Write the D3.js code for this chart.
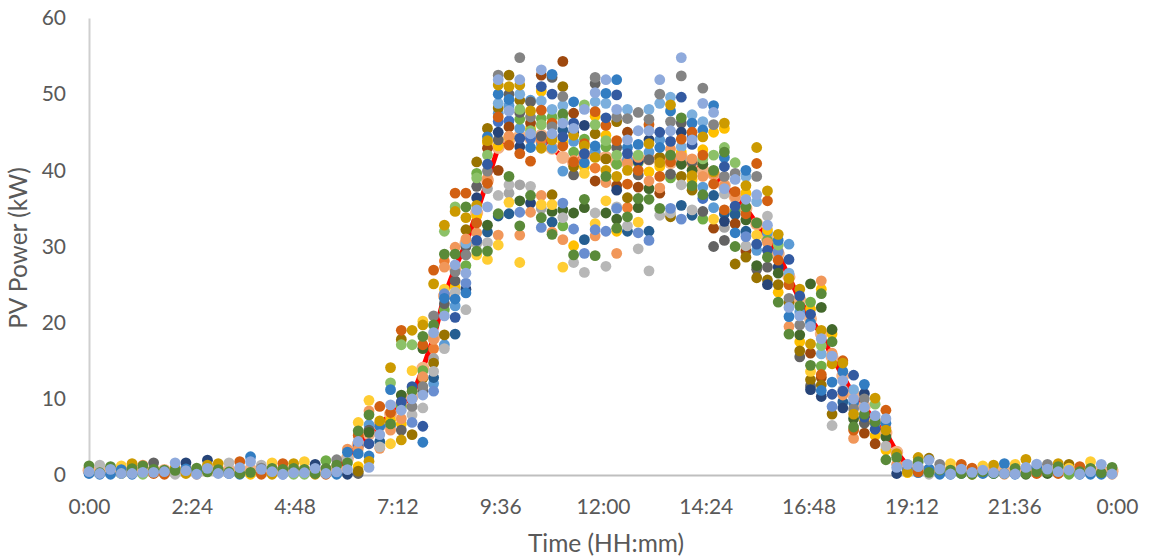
<!DOCTYPE html>
<html>
<head>
<meta charset="utf-8">
<script src="https://cdn.jsdelivr.net/npm/d3@7"></script>
<style>
  html, body { margin: 0; padding: 0; background: white; }
  text { font-family: Lato, "Open Sans", sans-serif; fill: #595959; }
</style>
</head>
<body>
<div id="Canvas1"></div>
<script>
// x axis labels, every 144 minutes
let xTickMinutes = [0, 144, 288, 432, 576, 720, 864, 1008, 1152, 1296, 1440]
let xTickLabels = ["0:00", "2:24", "4:48", "7:12", "9:36", "12:00", "14:24", "16:48", "19:12", "21:36", "0:00"]
let yTicks = [0, 10, 20, 30, 40, 50, 60]
// the loggers do not sit exactly on 15 min in the picture
let minutesPerSlot = 15.085

// mean of all days, one value per slot
let meanPower = [.6,.6,.6,.6,.6,.6,.6,.6,.6,.6,.6,.6,.6,.6,.6,.7,.6,.6,.6,.6,.6,.6,.6,.8,
  2.2,4,5.4,6.5,8,9.2,10.3,14,18,23.5,27.2,30.4,34.4,38.7,43,44,44.5,44.2,44.6,42.9,41.7,41,42,42,
  41.7,41,41,41.5,41.5,41.5,41,41.8,41,40,39.5,38,36.5,35,33,31,29,26,23,20.5,18.5,15.5,13,10.5,
  9,7,5.5,3,1.2,.7,.6,.6,.6,.6,.5,.6,.6,.6,.6,.7,.7,.6,.6,.6,.6,.6,.6,.5]

let s00 = [[18,.2],[23,1.2],[24,.43]]
let s01 = [[14,1.3],[18,.1],[23,.3],[24,.2]]
let s02 = [[18,.1],[23,1.1],[24,.74]]
let s03 = [[15,1.2],[18,.7],[23,.2],[24,.2]]
let s04 = [[21,1.5],[18,.1],[23,.85],[24,.2]]
let s05 = [[13,1.3],[17,.1],[23,1.2],[24,.35]]
let s06 = [[8,1.6],[19,.2],[23,.75],[24,.35]]
let s07 = [[19,.1],[18,.3],[23,.65],[24,.43]]
let s08 = [[21,.9],[14,.1],[23,.6],[24,1.6]]
let s09 = [[10,1.6],[21,.2],[18,.8],[24,.57]]
let s10 = [[13,.1],[18,.6],[23,.9],[24,.1]]
let s11 = [[10,1.95],[21,1.3],[23,.4],[24,.87]]
let s12 = [[21,1.5],[18,.3],[23,.7],[24,.2]]
let s13 = [[14,1.6],[18,.2],[23,.4],[24,.2]]
let s14 = [[19,1.75],[18,.1],[23,.2],[24,.96]]
let s15 = [[18,2.4],[3,.1],[23,.35],[24,1.75]]
let s16 = [[14,1.3],[19,.1],[20,.9],[24,.74]]
let s17 = [[15,1.6],[21,.1],[23,.87],[24,.43]]
let s18 = [[19,1.5],[16,.1],[23,.74],[24,.1]]
let s19 = [[21,1.5],[17,.1],[23,.87],[24,.3]]
let s20 = [[15,1.75],[17,.1],[23,.74],[24,.3]]
let s21 = [[10,1.4],[21,.1],[23,.2],[24,.87]]
let s22 = [[5,1.9],[19,.1],[23,.87],[24,.2]]
let s23 = [[20,2],[18,.1],[23,1.3],[24,.4]]
let s24 = [[14,2.2],[23,1.6],[24,.7],[10,.1],[13,3.4],[18,3]]
let s25 = [[15,6.9],[23,5.8],[19,5.2],[24,4.4],[13,3.4],[18,2.8],[3,1.1],[9,.5],[8,.2],[4,3.8]]
let s26 = [[15,9.8],[13,8.4],[23,7.9],[8,5.9],[11,5.6],[22,4.1],[18,2.5],[21,1.8],[24,1],[0,6.6]]
let s27 = [[19,9],[21,7.1],[18,6.4],[24,5.3],[14,3.7],[13,3.5],[6,4.4]]
let s28 = [[21,14.1],[17,12.1],[18,11.2],[24,9.2],[19,8.2],[3,7.2],[23,6.7],[13,5.9],[15,4.1],[0,6.4]]
let s29 = [[19,19],[9,17.8],[17,17.1],[11,10.5],[22,9.6],[5,9],[24,8.5],[13,7.4],[3,6.7],[8,5.9],[21,4.6]]
let s30 = [[21,19],[17,17.1],[15,13.7],[22,11.6],[23,11],[24,10],[20,9],[14,7.9],[16,6.9],[9,5.3]]
let s31 = [[21,19.7],[15,20.2],[23,18.2],[19,17.1],[11,16.6],[5,13.7],[9,12.7],[13,12.9],[20,11.6],[24,10.5],[14,8.8],[22,6.4],[18,4.3],[8,11]]
let s32 = [[19,26.9],[21,25.1],[20,20.9],[23,19.7],[24,18.7],[13,17.8],[1,16.6],[2,15.3],[9,14.7],[14,13.6],[6,12.8],[16,11],[0,12]]
let s33 = [[21,32.8],[17,32],[23,29],[1,28.1],[13,27.3],[15,24.4],[18,23.2],[8,22.5],[5,21.7],[24,20.9],[9,18.4],[0,17.1],[14,16.6],[16,23.8]]
let s34 = [[19,37],[17,35.2],[21,34.6],[13,29.9],[23,29],[24,27.6],[20,26.7],[3,24.7],[14,24],[18,23.1],[22,20.7],[6,18.5],[0,22.2],[8,25.5]]
let s35 = [[19,37],[23,35.2],[21,33.8],[9,32.2],[12,30.4],[20,28.9],[5,27.5],[24,26.5],[16,25.2],[18,23.9],[10,24.4],[14,21.7],[13,31],[8,30]]
let s36 = [[9,41.1],[5,39.6],[17,39],[8,37.9],[10,36.4],[21,35.4],[24,34.8],[19,33.1],[13,31.8],[22,30.8],[2,30.4],[23,29.4],[15,28.9],[3,34]]
let s37 = [[9,45.5],[18,44.4],[21,43.9],[7,42.9],[17,42],[22,40.8],[20,39.9],[19,38.3],[2,37.6],[24,35.2],[11,32.8],[6,31.9],[14,30.5],[23,29.4],[15,28.3],[13,39],[3,43.6]]
let s38 = [[20,52.5],[24,51.9],[21,51.2],[18,50],[12,48.8],[9,48.2],[19,47],[4,46.4],[10,45],[8,44],[3,43.2],[7,40],[14,36.7],[23,34.3],[6,34],[13,31.5],[15,30.2],[0,47.5]]
let s39 = [[9,52.5],[21,51],[8,50],[18,49.3],[24,47.8],[7,45.7],[3,44.4],[19,43.3],[23,39.2],[14,38.1],[2,37],[15,35.8],[6,34.3],[13,44.5],[4,46.5],[0,48.5]]
let s40 = [[20,54.8],[24,51.9],[21,51.2],[12,50],[9,49.2],[17,48],[5,46.7],[0,45.5],[22,44.2],[10,43.1],[19,42.2],[2,38.1],[11,36],[16,34.5],[23,32.7],[13,31.5],[15,27.9],[8,47.6]]
let s41 = [[0,49.2],[8,49],[21,47.8],[20,47],[7,46.2],[24,44.8],[4,44.2],[18,43],[19,41.2],[14,37.9],[23,36.7],[10,35.7],[13,34.5],[3,45.5],[17,45.2]]
let s42 = [[24,53.2],[7,52.5],[22,51],[3,50.4],[12,49.1],[19,47.9],[5,46.8],[17,46],[1,44],[21,42.9],[13,36.7],[15,35.5],[2,35],[23,33.8],[16,32.5],[8,44.5],[0,43.5]]
let s43 = [[18,52.6],[8,52.2],[22,50],[12,48],[19,46.2],[20,45.7],[24,44.8],[21,44],[0,42.9],[9,36.8],[15,35.5],[11,34.6],[6,33.2],[23,31.6],[13,31.9],[1,44.5],[5,47]]
let s44 = [[7,54.3],[9,51],[20,49.7],[12,48.5],[23,47.4],[17,46.8],[24,46.2],[22,44.4],[19,43.2],[0,39.9],[16,35.7],[11,34.8],[14,33.8],[5,32.7],[13,30.9],[15,27.3],[6,45.3],[3,43.7]]
let s45 = [[18,49],[7,47.5],[22,46.2],[24,45.5],[21,44.6],[0,43.8],[5,42.4],[19,41.1],[9,40.5],[8,39.4],[11,34.4],[16,32.3],[3,30.1],[23,28.9],[14,27.9],[10,45],[13,41.3]]
let s46 = [[17,48.6],[24,48],[10,45.9],[5,44.1],[21,43.2],[22,42.2],[18,41],[15,39.6],[23,36.2],[11,35.1],[6,30.9],[16,29.1],[14,26.6],[13,42],[19,43.5],[3,40.4]]
let s47 = [[20,52.2],[8,51.4],[24,50.2],[12,49],[19,47.7],[3,47.1],[17,46],[9,44.8],[18,43.2],[21,41.7],[1,40.3],[7,38.6],[14,34.4],[15,33],[16,32.2],[13,31.4],[23,28.8],[0,42.5]]
let s48 = [[24,51.9],[18,50.1],[12,48.8],[22,46.9],[19,45.9],[3,44.6],[17,43.9],[5,43.1],[21,40],[23,39.2],[13,38.4],[15,36],[11,34.4],[16,32],[14,27.4],[9,41.5]]
let s49 = [[18,51.9],[22,49.9],[24,48],[20,47],[9,46.4],[19,43.9],[8,43],[17,42],[5,40.8],[21,39.2],[7,38],[10,37.4],[16,35],[14,35.2],[11,33.6],[23,32.4],[3,32],[13,29.1]]
let s50 = [[12,48],[20,46.8],[7,45],[24,44],[22,42.2],[13,41],[21,40],[19,38.2],[9,36.4],[1,35.1],[23,33.9],[14,32.7],[6,32],[18,43],[0,41.4]]
let s51 = [[20,47.6],[24,45.2],[18,43.4],[17,42],[10,41.2],[19,40],[8,39.4],[7,37.8],[23,36.3],[11,35.1],[15,33.2],[16,31.8],[14,29.7],[13,41.7],[5,41]]
let s52 = [[12,48],[20,46.7],[19,46],[24,45.2],[21,43.5],[0,42.4],[8,41.4],[3,39.8],[13,38.6],[11,37.6],[23,36.2],[6,32],[16,30.8],[14,26.8],[10,44]]
let s53 = [[24,51.9],[20,50],[12,48.8],[22,45],[18,43],[9,41.7],[21,41],[19,39.2],[13,37.7],[7,37],[23,35],[14,34.1],[3,40.5],[0,44]]
let s54 = [[12,49.6],[21,48.6],[18,47.8],[20,46.4],[24,45.2],[22,43.8],[13,42.8],[23,42],[19,41.1],[8,39.5],[5,39],[16,35],[14,34.4],[9,33.9],[1,41.8]]
let s55 = [[24,54.8],[20,52.4],[22,49.6],[23,46.9],[8,46.2],[10,45],[19,44.1],[12,43.1],[3,42.4],[2,41.6],[11,40.8],[9,39.2],[14,38.1],[6,35.4],[16,33.6],[13,41.9]]
let s56 = [[12,47.3],[18,46.2],[19,45],[24,44],[22,43.4],[8,41.1],[11,40],[21,39.3],[3,38.8],[23,38],[9,37.4],[14,34.8],[6,34.1],[13,41.5],[4,44.4]]
let s57 = [[20,50.8],[24,48.8],[12,46.4],[18,45.3],[21,44.4],[3,42.7],[19,42],[11,40.8],[13,39.2],[0,37.8],[23,36.8],[4,36.3],[8,34.6],[5,33.6],[17,41.5]]
let s58 = [[18,48.5],[24,47.6],[20,46],[3,45],[17,42],[23,40],[19,38.2],[6,36.7],[0,35.1],[15,33.6],[7,32.4],[8,30],[13,39.5],[21,39.8]]
let s59 = [[21,46.2],[3,45.5],[17,43],[23,42.4],[18,41.7],[22,40.5],[20,39.2],[24,37.6],[14,36.9],[19,34.8],[6,34.3],[10,33.3],[2,32.5],[8,30.8],[13,38]]
let s60 = [[17,41],[20,39.6],[24,38.8],[19,37.2],[22,35.3],[5,34.6],[6,34.2],[7,33],[18,31.8],[23,30],[9,27.7],[13,36.5]]
let s61 = [[18,40],[12,39.2],[21,38],[3,37],[23,35.2],[19,34.3],[6,32],[16,31.3],[14,30.1],[7,29.4],[9,28.6],[24,36.2],[11,33.5]]
let s62 = [[21,43],[19,40.9],[20,39.2],[24,36.8],[12,35.9],[23,33.1],[15,31.5],[22,30.3],[0,29.5],[9,25.9],[13,33],[11,27.5],[8,27]]
let s63 = [[21,37.3],[19,36],[14,34],[24,32.8],[5,30.8],[13,30.5],[22,29.5],[23,28.6],[8,27.3],[9,25.6],[10,25],[0,31.8],[3,32.2]]
let s64 = [[21,31.6],[18,30.8],[17,30.2],[16,29.3],[19,28.2],[10,27.3],[11,26.5],[9,25],[3,24],[23,22.7],[13,29.4]]
let s65 = [[0,30.3],[22,28.3],[12,26.5],[21,25.8],[19,25],[20,23.2],[24,22],[18,20.8],[13,19.5],[23,18.5],[9,22.6]]
let s66 = [[21,24.4],[22,23.5],[23,22.2],[24,20.9],[20,19.7],[11,18.4],[3,17.5],[9,16.3],[8,15.5],[0,21.4]]
let s67 = [[11,25.1],[5,22.7],[3,21.8],[22,21.1],[18,20],[24,19.5],[21,17.2],[7,16],[23,14.4],[15,13.6],[9,12.5],[8,11.7],[10,11.2]]
let s68 = [[13,25.5],[23,23.8],[3,24.4],[11,22],[21,19],[24,17.9],[17,17],[12,15.9],[19,13.2],[9,11.8],[18,11.1],[10,10.3],[7,12.8],[5,14.3]]
let s69 = [[11,19.1],[3,18.5],[23,17.5],[13,16],[24,15.6],[21,14.6],[18,12.2],[22,10.6],[16,9],[9,8],[14,6.5]]
let s70 = [[19,15],[21,14.7],[18,13.6],[24,12.4],[14,11.2],[6,9.6],[10,8.8],[13,10.5],[22,11]]
let s71 = [[22,13.1],[12,11.2],[24,10],[20,8.7],[21,8],[11,7.4],[23,6.3],[19,5.9],[13,4.8],[18,9.5]]
let s72 = [[18,11.9],[10,10.7],[20,10],[24,8.9],[23,8],[8,6.8],[7,5.5],[22,7.6],[3,7]]
let s73 = [[21,10.1],[17,9.3],[24,7.8],[23,7],[22,6],[3,5.2],[7,4.1],[18,6.8]]
let s74 = [[19,8.5],[24,7.4],[18,6.8],[21,5.9],[11,5],[3,3.3],[23,2],[13,6.2],[14,3.8]]
let s75 = [[21,2.8],[23,2.3],[13,1.4],[24,1],[10,.2]]
let s76 = [[3,.3],[24,1.4],[21,.4],[18,.7]]
let s77 = [[21,2.3],[23,1.75],[19,.4],[18,.3],[24,1.1]]
let s78 = [[9,2.2],[18,.8],[14,.1],[23,.35],[24,1.97]]
let s79 = [[20,1.4],[18,.1],[23,.65],[24,.78]]
let s80 = [[15,1.5],[18,.1],[23,.65],[24,.13]]
let s81 = [[19,1.4],[18,.2],[23,.2],[24,.78]]
let s82 = [[19,.9],[21,.1],[23,.1],[24,.35]]
let s83 = [[15,1.2],[18,.2],[23,.43],[24,.65]]
let s84 = [[21,1.3],[18,.2],[23,.2],[24,.3]]
let s85 = [[18,1.5],[13,.1],[23,.2],[24,.2]]
let s86 = [[15,1.4],[18,.1],[23,.87],[24,.13]]
let s87 = [[21,2.05],[11,.1],[23,.2],[24,1]]
let s88 = [[19,.2],[18,1],[23,.43],[24,1.44]]
let s89 = [[20,1.4],[11,.2],[23,.43],[24,.78]]
let s90 = [[21,1.5],[19,.2],[23,1.1],[24,.43]]
let s91 = [[9,1.4],[5,.1],[15,.9],[24,.65]]
let s92 = [[19,1.1],[18,.1],[23,.43],[24,.13]]
let s93 = [[15,1.75],[18,.1],[23,.87],[24,.43]]
let s94 = [[18,.1],[23,.3],[24,1.4]]
let s95 = [[13,.1],[23,1],[24,.13]]

let daySlots = [s00,s01,s02,s03,s04,s05,s06,s07,s08,s09,s10,s11,s12,s13,s14,s15,s16,s17,s18,s19,s20,s21,s22,s23,
  s24,s25,s26,s27,s28,s29,s30,s31,s32,s33,s34,s35,s36,s37,s38,s39,s40,s41,s42,s43,s44,s45,s46,s47,
  s48,s49,s50,s51,s52,s53,s54,s55,s56,s57,s58,s59,s60,s61,s62,s63,s64,s65,s66,s67,s68,s69,s70,s71,
  s72,s73,s74,s75,s76,s77,s78,s79,s80,s81,s82,s83,s84,s85,s86,s87,s88,s89,s90,s91,s92,s93,s94,s95]

let W = 1151
let H = 559
let svg = d3.select("#Canvas1")
    .append("svg")
    .attr("width", W)
    .attr("height", H)
    .style("display", "block")

// Office palette, later days are drawn on top
let dayColor = d3.scaleOrdinal()
    .domain(d3.range(25))
    .range(["#5B9BD5", "#ED7D31", "#A5A5A5", "#FFC000", "#4472C4", "#70AD47",
            "#255E91", "#9E480E", "#636363", "#997300", "#264478", "#43682B",
            "#7CAFDD", "#F1975A", "#B7B7B7", "#FFCD33", "#698ED0", "#8CC168",
            "#327DC2", "#D26012", "#848484", "#CC9A00", "#335AA1", "#5A8A39", "#8FAADC"])

let x = d3.scaleLinear().domain([0, 1440]).range([89, 1117])
let y = d3.scaleLinear().domain([0, 60]).range([475, 18])
let slotX = slot => x(slot * minutesPerSlot)

// 座標軸
svg.append("g")
    .attr("transform", `translate(0,${y(0)})`)
    .call(d3.axisBottom(x).tickValues(xTickMinutes).tickSize(0).tickPadding(24)
        .tickFormat((d, i) => xTickLabels[i]))
    .call(g => g.select(".domain").attr("stroke", "#BFBFBF").attr("stroke-width", 2))
    .call(g => g.selectAll("text").style("font-size", "21px"))
svg.append("g")
    .attr("transform", `translate(${x(0)},0)`)
    .call(d3.axisLeft(y).tickValues(yTicks).tickSize(0).tickPadding(23))
    .call(g => g.select(".domain").attr("stroke", "#CFCFCF").attr("stroke-width", 2))
    .call(g => g.selectAll("text").style("font-size", "21px"))

svg.append("text")
    .attr("x", 606).attr("y", 552)
    .attr("text-anchor", "middle")
    .style("font-size", "24.5px")
    .text("Time (HH:mm)")
svg.append("text")
    .attr("transform", "translate(27,248) rotate(-90)")
    .attr("text-anchor", "middle")
    .style("font-size", "24.5px")
    .text("PV Power (kW)")

// mean series: thick red line with big pale markers, under everything
let meanLine = d3.line().x((d, i) => slotX(i)).y(d => y(d))
svg.append("path")
    .attr("d", meanLine(meanPower))
    .attr("fill", "none")
    .attr("stroke", "#FF0000")
    .attr("stroke-width", 5)
svg.append("g").selectAll("circle")
    .data(meanPower).join("circle")
    .attr("cx", (d, i) => slotX(i))
    .attr("cy", d => y(d))
    .attr("r", 6.5)
    .attr("fill", "#F4B183")

let points = daySlots.flatMap((pairs, slot) => pairs.map(p => ({slot: slot, day: p[0], kw: p[1]})))
dayColor.domain().forEach(day => {
    svg.append("g").selectAll("circle")
        .data(points.filter(p => p.day === day)).join("circle")
        .attr("cx", d => slotX(d.slot))
        .attr("cy", d => y(d.kw))
        .attr("r", 5.4)
        .attr("fill", dayColor(day))
})
</script>
</body>
</html>
